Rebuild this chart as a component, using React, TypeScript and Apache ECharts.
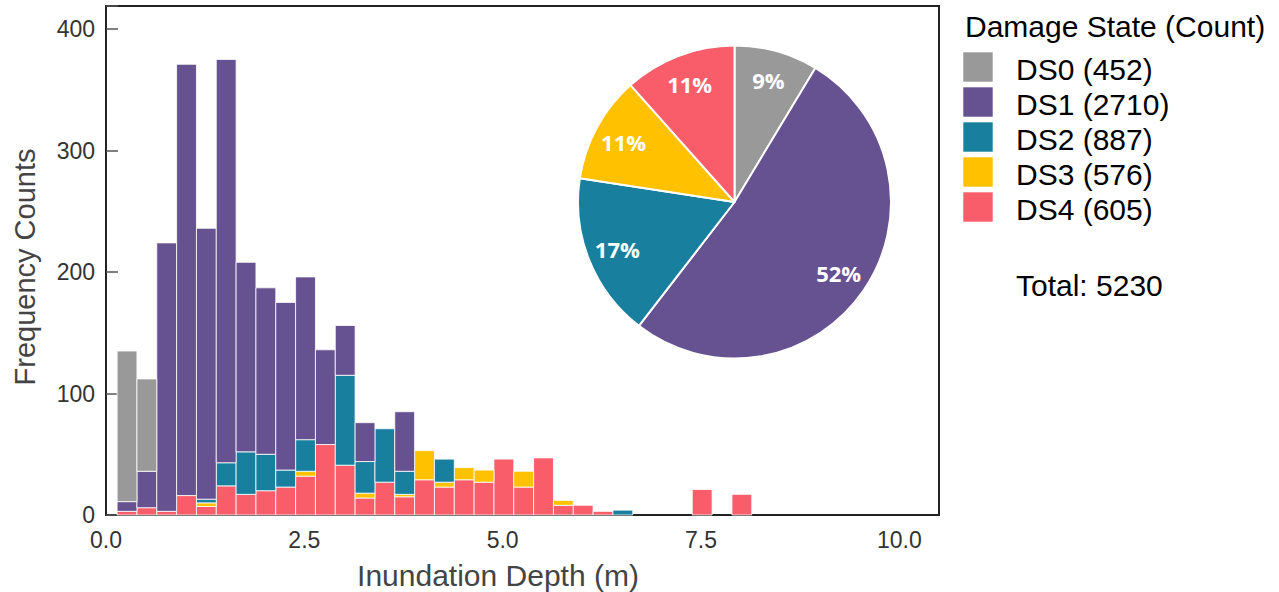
import React, { useEffect, useRef } from "react";
import * as echarts from "echarts";

// Histogram bins (inundation depth, m)
const binStart = 0.14;
const binWidth = 0.25;

// Frequency counts per bin for each damage state (32 bins)
const ds0 = [124, 76, 0, 0, 0, 0, 0, 0, 0, 0, 0, 0, 0, 0, 0, 0, 0, 0, 0, 0, 0, 0, 0, 0, 0, 0, 0, 0, 0, 0, 0, 0];
const ds1 = [8, 30, 221, 355, 223, 332, 156, 137, 138, 134, 78, 41, 32, 0, 49, 0, 0, 0, 0, 0, 0, 0, 0, 0, 0, 0, 0, 0, 0, 0, 0, 0];
const ds2 = [0, 0, 0, 0, 3, 19, 35, 30, 14, 26, 0, 74, 26, 44, 19, 0, 19, 0, 0, 0, 0, 0, 0, 0, 0, 4, 0, 0, 0, 0, 0, 0];
const ds3 = [0, 0, 0, 0, 3, 0, 0, 0, 0, 4, 0, 0, 4, 0, 2, 24, 4, 10, 10, 0, 13, 0, 4, 0, 0, 0, 0, 0, 0, 0, 0, 0];
const ds4 = [3, 6, 3, 16, 7, 24, 17, 20, 23, 32, 58, 41, 14, 27, 15, 29, 23, 29, 27, 46, 23, 47, 8, 8, 3, 0, 0, 0, 0, 21, 0, 17];

const stateNames = ["DS0", "DS1", "DS2", "DS3", "DS4"];
const stateCounts = [452, 2710, 887, 576, 605];
const pieLabels = ["9%", "52%", "17%", "11%", "11%"];
const legendTitle = "Damage State (Count)";
const totalLabel = "Total: 5230";
const colors = ["#999999", "#665191", "#18809e", "#ffc100", "#f95d6a"];

const xTicks = [0, 2.5, 5, 7.5, 10];
const yTicks = [0, 100, 200, 300, 400];
const xTitle = "Inundation Depth (m)";
const yTitle = "Frequency Counts";

const FONT = "'Liberation Sans', Arial, sans-serif";

function txt(text: string, x: number, y: number, size: number, fill: string, align = "left", rotation = 0) {
  return {
    type: "text",
    x,
    y,
    rotation,
    style: {
      text,
      fill,
      font: `${size}px ${FONT}`,
      textAlign: align,
      textVerticalAlign: "middle",
      align,
      verticalAlign: "middle",
    },
  };
}

export default function App() {
  const ref = useRef<HTMLDivElement>(null);

  useEffect(() => {
    const chart = echarts.init(ref.current!, null, { renderer: "svg" });
    const seriesVals = [ds0, ds1, ds2, ds3, ds4];
    const stackOrder = [4, 3, 2, 1, 0];
    const base = new Array(ds0.length).fill(0);
    const rectSeries: any[] = [];
    for (const k of stackOrder) {
      const data: number[][] = [];
      seriesVals[k].forEach((v, i) => {
        if (v > 0) {
          const x0 = binStart + i * binWidth;
          data.push([x0, x0 + binWidth, base[i], base[i] + v]);
        }
        base[i] += v;
      });
      const col = colors[k];
      rectSeries.push({
        type: "custom",
        name: stateNames[k],
        data,
        encode: { x: [0, 1], y: [2, 3] },
        silent: true,
        itemStyle: { color: col },
        renderItem: (params: any, api: any) => {
          const a = api.coord([api.value(0), api.value(3)]);
          const b = api.coord([api.value(1), api.value(2)]);
          return {
            type: "rect",
            shape: { x: a[0], y: a[1], width: b[0] - a[0], height: b[1] - a[1] },
            style: { fill: col, stroke: "rgba(255,255,255,0.8)", lineWidth: 1 },
          };
        },
      });
    }

    const pieData = stateNames.map((n, i) => ({
      name: n,
      value: stateCounts[i],
      itemStyle: { color: colors[i] },
    }));

    const graphicEls: any[] = [
      txt(legendTitle, 965, 26, 30, "#000"),
      txt(xTitle, 498, 575, 30, "#444", "center"),
      txt(yTitle, 25, 267, 29, "#444", "center", Math.PI / 2),
    ];
    stateNames.forEach((n, i) => {
      graphicEls.push({
        type: "rect",
        shape: { x: 963, y: 52 + 35 * i, width: 30, height: 30 },
        style: { fill: colors[i], stroke: "rgba(255,255,255,0.6)", lineWidth: 1 },
      });
      graphicEls.push(txt(`${n} (${stateCounts[i]})`, 1016, 69 + 35 * i, 30, "#000"));
    });
    graphicEls.push(txt(totalLabel, 1016, 285, 30, "#000"));

    chart.setOption({
      animation: false,
      backgroundColor: "#fff",
      textStyle: { fontFamily: FONT },
      grid: {
        left: 106,
        top: 6,
        width: 833,
        height: 509,
        show: true,
        borderColor: "#222",
        borderWidth: 2,
        backgroundColor: "transparent",
        containLabel: false,
      },
      xAxis: {
        type: "value",
        min: 0,
        max: 10.5,
        interval: 2.5,
        axisLine: { show: false },
        axisTick: { show: false },
        splitLine: { show: false },
        axisLabel: {
          formatter: (v: number) => (xTicks.includes(v) ? v.toFixed(1) : ""),
          fontSize: 23,
          color: "#333",
          margin: 13,
          fontFamily: FONT,
        },
      },
      yAxis: {
        type: "value",
        min: 0,
        max: 419,
        interval: 100,
        axisLine: { show: false },
        axisTick: { show: true, inside: true, length: 12, lineStyle: { color: "#555", width: 1.5 } },
        splitLine: { show: false },
        axisLabel: {
          formatter: (v: number) => (yTicks.includes(v) ? String(v) : ""),
          fontSize: 23,
          color: "#333",
          margin: 11,
          fontFamily: FONT,
        },
      },
      series: [
        ...rectSeries,
        {
          type: "pie",
          center: [734.5, 202],
          radius: 156.5,
          startAngle: 90,
          clockwise: true,
          silent: true,
          data: pieData,
          label: { show: false },
          labelLine: { show: false },
          itemStyle: { borderColor: "#fff", borderWidth: 2 },
          emphasis: { disabled: true },
        },
        {
          type: "pie",
          center: [734.5, 202],
          radius: [90, 156.5],
          startAngle: 90,
          clockwise: true,
          silent: true,
          data: pieData.map((d) => ({ name: d.name, value: d.value })),
          itemStyle: { color: "rgba(0,0,0,0)" },
          label: {
            show: true,
            position: "inside",
            formatter: (p: any) => pieLabels[p.dataIndex],
            color: "#fff",
            fontWeight: "bold",
            fontSize: 22,
            fontFamily: "'Open Sans', sans-serif",
          },
          labelLine: { show: false },
          emphasis: { disabled: true },
        },
      ],
      graphic: graphicEls,
    });

    return () => chart.dispose();
  }, []);

  return (
    <div
      ref={ref}
      style={{ position: "fixed", left: 0, top: 0, width: 1279, height: 592, background: "#fff" }}
    />
  );
}
